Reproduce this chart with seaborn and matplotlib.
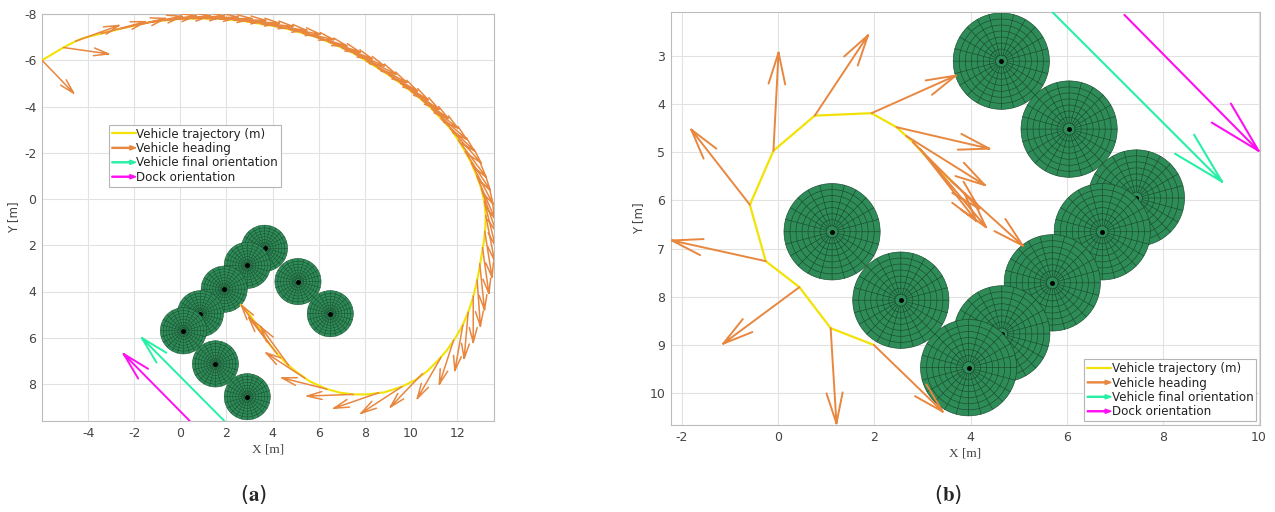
import numpy as np
import matplotlib
matplotlib.use("Agg")
import matplotlib.pyplot as plt
import seaborn as sns
import pandas as pd
from matplotlib.patches import Circle, FancyArrow
from matplotlib.lines import Line2D
from matplotlib.legend_handler import HandlerPatch

# ---------------- data: panel (a) ----------------
left_traj_x = [-6.0, -5.07, -4.55, -4.2, -3.45, -2.6, -1.9, -1.3, -0.7, -0.1, 0.5, 1.1, 1.7, 2.3, 2.9, 3.5,
               4.1, 4.7, 5.3, 5.9, 6.45, 7.0, 7.55, 8.05, 8.55, 9.05, 9.55, 10.0, 10.45, 10.9, 11.3, 11.7,
               12.05, 12.35, 12.62, 12.85, 13.05, 13.18, 13.24, 13.22, 13.15, 13.05, 12.95, 12.83, 12.68,
               12.48, 12.22, 11.9, 11.55, 11.15, 10.7, 10.2, 9.6, 8.84, 8.1, 7.5, 6.9, 6.3, 5.6, 5.0,
               4.64, 4.2, 3.77, 3.4, 3.0, 2.61]
left_traj_y = [-6.0, -6.55, -6.82, -6.96, -7.15, -7.36, -7.52, -7.65, -7.72, -7.78, -7.8, -7.8, -7.79, -7.74,
               -7.67, -7.57, -7.47, -7.34, -7.17, -7.0, -6.78, -6.54, -6.28, -5.98, -5.67, -5.35, -5.0,
               -4.66, -4.3, -3.9, -3.48, -3.05, -2.55, -2.05, -1.55, -1.0, -0.45, 0.1, 0.7, 1.3, 1.9, 2.5,
               3.1, 3.7, 4.3, 4.9, 5.5, 6.05, 6.55, 7.0, 7.45, 7.82, 8.12, 8.36, 8.45, 8.45, 8.37, 8.2,
               7.88, 7.45, 7.15, 6.7, 6.15, 5.55, 5.0, 4.57]

left_head_x = [-6.0, -5.07, -4.55, -3.45, -2.6, -1.9, -1.3, -0.7, -0.1, 0.5, 1.1, 1.7, 2.3, 2.9, 3.5, 4.1,
               4.7, 5.3, 5.9, 6.45, 7.0, 7.55, 8.05, 8.55, 9.05, 9.55, 10.0, 10.45, 10.9, 11.3, 11.7, 12.05,
               12.35, 12.62, 12.85, 13.05, 13.18, 13.24, 13.2, 13.1, 12.98, 12.87, 12.7, 12.48, 12.25,
               11.85, 11.3, 10.5, 9.6, 8.6, 7.5, 6.35, 5.4, 4.7, 4.2, 3.85]
left_head_y = [-6.0, -6.55, -6.82, -7.15, -7.36, -7.52, -7.65, -7.72, -7.78, -7.8, -7.8, -7.79, -7.74, -7.67,
               -7.57, -7.47, -7.34, -7.17, -7.0, -6.78, -6.54, -6.28, -5.98, -5.67, -5.35, -5.0, -4.66,
               -4.3, -3.9, -3.48, -3.05, -2.55, -2.05, -1.55, -1.0, -0.45, 0.1, 0.7, 1.4, 2.1, 2.8, 3.5,
               4.2, 4.9, 5.45, 6.1, 6.85, 7.55, 8.12, 8.38, 8.45, 8.22, 7.75, 7.2, 6.7, 6.25]
left_head_deg = [46, 8, -20, -15, -13, -11, -8, -6, -4, -2, 0, 2, 4, 6, 8, 10, 13, 16, 19, 21, 23, 26, 28,
                 30, 32, 34, 36, 38, 41, 44, 48, 53, 57, 62, 67, 71, 76, 79, 81, 82, 84, 86, 90, 95, 100,
                 108, 120, 134, 147, 161, 178, 194, 213, 234, 232, 234]
left_head_len = [1.97, 1.97] + [2.0] * 44 + [2.05, 2.0, 2.1, 2.05, 2.0, 2.0, 2.0, 2.05, 2.0, 2.05]

left_obst_x = [3.65, 2.9, 1.9, 0.87, 0.13, 5.1, 6.5, 1.52, 2.9]
left_obst_y = [2.13, 2.87, 3.9, 4.96, 5.7, 3.57, 4.96, 7.13, 8.55]

left_final_base = (1.91, 9.6)
left_final_tip = (-1.67, 6.01)
left_dock_base = (0.41, 9.6)
left_dock_tip = (-2.46, 6.7)

left_xticks = [-4, -2, 0, 2, 4, 6, 8, 10, 12]
left_yticks = [-8, -6, -4, -2, 0, 2, 4, 6, 8]

# ---------------- data: panel (b) ----------------
right_traj_x = [3.6, 3.18, 2.8, 2.46, 1.94, 0.76, -0.1, -0.59, -0.26, 0.44, 1.09, 1.99]
right_traj_y = [5.6, 5.21, 4.79, 4.48, 4.19, 4.24, 4.97, 6.09, 7.26, 7.8, 8.65, 9.0]

right_head_x = [1.99, 1.09, 0.44, -0.26, -0.59, -0.1, 0.76, 1.94, 2.46, 2.66, 2.8, 2.95, 3.1, 3.6]
right_head_y = [9.0, 8.65, 7.8, 7.26, 6.09, 4.97, 4.24, 4.19, 4.48, 4.66, 4.79, 4.93, 5.1, 5.6]
right_head_deg = [44, 86.5, 143.5, 192.4, 232, 273, 303.6, 336, 13, 32, 45, 52, 50, 42]
right_head_len = [1.99, 1.98, 1.97, 2.0, 1.98, 2.04, 2.0, 1.92, 1.98, 1.93, 1.95, 1.9, 1.9, 2.0]

right_obst_x = [4.64, 6.05, 7.45, 6.74, 5.7, 4.65, 3.96, 1.12, 2.55]
right_obst_y = [3.11, 4.52, 5.95, 6.65, 7.71, 8.77, 9.47, 6.65, 8.07]

right_final_base = (5.7, 2.09)
right_final_tip = (9.23, 5.61)
right_dock_base = (7.2, 2.15)
right_dock_tip = (9.99, 4.97)

right_xticks = [-2, 0, 2, 4, 6, 8, 10]
right_yticks = [3, 4, 5, 6, 7, 8, 9, 10]

legend_labels = ["Vehicle trajectory (m)", "Vehicle heading",
                 "Vehicle final orientation", "Dock orientation"]

# ---------------- styles ----------------
C_TRAJ = "#f2e205"
C_HEAD = "#e8873f"
C_FINAL = "#27f0a6"
C_DOCK = "#ff10f0"
C_OBST = "#2e8c58"
C_MESH = "#1a4a2e"

sns.set_theme(style="whitegrid")
plt.rcParams["font.family"] = ["DejaVu Sans"]
plt.rcParams["mathtext.fontset"] = "stix"
plt.rcParams["axes.unicode_minus"] = False

fig = plt.figure(figsize=(12.75, 5.12), dpi=100)
axL = fig.add_axes([42 / 1275, (512 - 421) / 512, 452 / 1275, 407 / 512])
axR = fig.add_axes([671 / 1275, (512 - 425) / 512, 589 / 1275, 413 / 512])


def draw_arrows(ax, xs, ys, degs, lens, color, lw, hfrac=0.32, wfrac=0.085, z=5):
    px, py = [], []
    for x, y, a, L in zip(xs, ys, degs, lens):
        d = np.array([np.cos(np.radians(a)), np.sin(np.radians(a))])
        n = np.array([-d[1], d[0]])
        tip = np.array([x, y]) + L * d
        h, w = hfrac * L, wfrac * L
        b1 = tip - h * d + w * n
        b2 = tip - h * d - w * n
        px += [x, tip[0], np.nan, b1[0], tip[0], b2[0], np.nan]
        py += [y, tip[1], np.nan, b1[1], tip[1], b2[1], np.nan]
    ax.plot(px, py, color=color, lw=lw, zorder=z, solid_capstyle="round")


def draw_orient(ax, base, tip, color, lw, h, w):
    b = np.array(base)
    t = np.array(tip)
    d = (t - b) / np.linalg.norm(t - b)
    n = np.array([-d[1], d[0]])
    b1 = t - h * d + w * n
    b2 = t - h * d - w * n
    ax.plot([b[0], t[0], np.nan, b1[0], t[0], b2[0]],
            [b[1], t[1], np.nan, b1[1], t[1], b2[1]], color=color, lw=lw, zorder=6)


def draw_obstacle(ax, cx, cy, z, mesh_lw, nrings=8, nspokes=24):
    ax.add_patch(Circle((cx, cy), 1.0, facecolor=C_OBST, edgecolor=C_MESH, lw=mesh_lw, zorder=z))
    for k in range(1, nrings):
        ax.add_patch(Circle((cx, cy), k / nrings, fill=False, edgecolor=C_MESH, lw=mesh_lw, zorder=z + 0.001))
    sx, sy = [], []
    for k in range(nspokes):
        a = 2 * np.pi * k / nspokes
        sx += [cx + 0.12 * np.cos(a), cx + np.cos(a), np.nan]
        sy += [cy + 0.12 * np.sin(a), cy + np.sin(a), np.nan]
    ax.plot(sx, sy, color=C_MESH, lw=mesh_lw, zorder=z + 0.002)
    ax.plot([cx], [cy], "o", color="black", ms=2.5, zorder=z + 0.003)


def arrow_patch(legend, orig_handle, xdescent, ydescent, width, height, fontsize):
    return FancyArrow(-xdescent, -ydescent + height / 2, width, 0, width=height * 0.12,
                      head_width=height * 0.5, head_length=width * 0.25,
                      length_includes_head=True)


def style_axes(ax, xlim, ylim, xticks, yticks):
    ax.set_xlim(*xlim)
    ax.set_ylim(*ylim)
    ax.set_xticks(xticks)
    ax.set_yticks(yticks)
    ax.set_axisbelow(True)
    ax.grid(True, color="#e2e2e2", lw=0.8)
    ax.set_facecolor("white")
    for s in ax.spines.values():
        s.set_visible(True)
        s.set_color("#bcbcbc")
        s.set_linewidth(0.8)
    ax.tick_params(axis="both", labelsize=9, labelcolor="#444444", length=0, pad=4)
    ax.set_xlabel("X [m]", family="Liberation Serif", fontsize=9.5, color="#444444", labelpad=3)
    ax.set_ylabel("Y [m]", fontsize=8.5, color="#444444", labelpad=3)


def make_legend(ax, **kw):
    handles = [Line2D([], [], color=C_TRAJ, lw=1.6),
               FancyArrow(0, 0, 1, 0, color=C_HEAD),
               FancyArrow(0, 0, 1, 0, color=C_FINAL),
               FancyArrow(0, 0, 1, 0, color=C_DOCK)]
    leg = ax.legend(handles, legend_labels, handler_map={FancyArrow: HandlerPatch(patch_func=arrow_patch)},
                    fontsize=8.6, frameon=True, fancybox=False, framealpha=1, edgecolor="#b5b5b5",
                    handlelength=2.0, handletextpad=0.05, labelspacing=0.12, borderpad=0.25,
                    borderaxespad=0.3, **kw)
    leg.get_frame().set_linewidth(0.8)
    leg.set_zorder(20)
    for t in leg.get_texts():
        t.set_color("#222222")
    return leg


# ---------------- panel (a) ----------------
for i, (cx, cy) in enumerate(zip(left_obst_x, left_obst_y)):
    draw_obstacle(axL, cx, cy, 2 + i * 0.01, 0.35)
dfL = pd.DataFrame({"x": left_traj_x, "y": left_traj_y})
sns.lineplot(data=dfL, x="x", y="y", sort=False, estimator=None, ax=axL, color=C_TRAJ, lw=1.5, zorder=4)
draw_arrows(axL, left_head_x, left_head_y, left_head_deg, left_head_len, C_HEAD, 1.1)
draw_orient(axL, left_final_base, left_final_tip, C_FINAL, 1.4, 1.2, 0.3)
draw_orient(axL, left_dock_base, left_dock_tip, C_DOCK, 1.4, 1.2, 0.3)
style_axes(axL, (-6, 13.6), (9.6, -8), left_xticks, left_yticks)
make_legend(axL, loc="upper left", bbox_to_anchor=(0.14, 0.737))

# ---------------- panel (b) ----------------
for i, (cx, cy) in enumerate(zip(right_obst_x, right_obst_y)):
    draw_obstacle(axR, cx, cy, 2 + i * 0.01, 0.45)
dfR = pd.DataFrame({"x": right_traj_x, "y": right_traj_y})
sns.lineplot(data=dfR, x="x", y="y", sort=False, estimator=None, ax=axR, color=C_TRAJ, lw=1.6, zorder=4)
draw_arrows(axR, right_head_x, right_head_y, right_head_deg, right_head_len, C_HEAD, 1.4)
draw_orient(axR, right_final_base, right_final_tip, C_FINAL, 1.5, 1.1, 0.28)
draw_orient(axR, right_dock_base, right_dock_tip, C_DOCK, 1.5, 1.1, 0.28)
style_axes(axR, (-2.23, 10.02), (10.66, 2.09), right_xticks, right_yticks)
make_legend(axR, loc="lower right", bbox_to_anchor=(1.0, 0.0))

fig.text(253 / 1275, 1 - 494 / 512, r"($\mathbf{a}$)", ha="center", va="center", fontsize=15)
fig.text(948 / 1275, 1 - 494 / 512, r"($\mathbf{b}$)", ha="center", va="center", fontsize=15)

fig.savefig("out.png", dpi=100, facecolor="white")
